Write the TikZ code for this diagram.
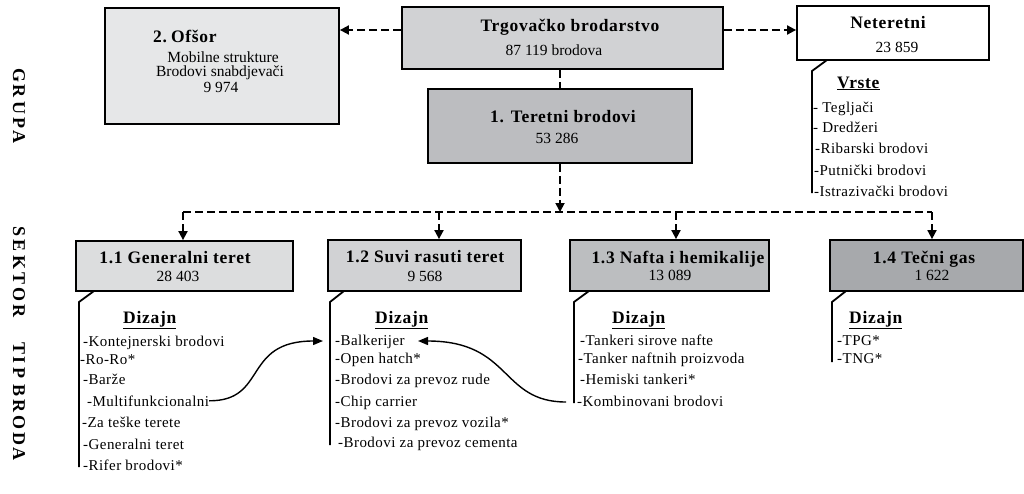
\documentclass[tikz,border=0pt]{standalone}
\usepackage{fontspec}
\setmainfont{Liberation Serif}
\usetikzlibrary{arrows.meta}
\definecolor{cOfs}{HTML}{E6E7E8}
\definecolor{cTrg}{HTML}{D1D2D4}
\definecolor{cTer}{HTML}{BCBDC0}
\definecolor{cS1}{HTML}{DCDDDE}
\definecolor{cS2}{HTML}{D1D2D4}
\definecolor{cS3}{HTML}{BCBEC0}
\definecolor{cS4}{HTML}{A7A9AC}
\tikzset{
  box/.style={draw, line width=1.8pt, rectangle, inner sep=0pt},
  head/.style={font=\bfseries\fontsize{17.5}{20}\selectfont\addfontfeatures{LetterSpace=4}, inner sep=0pt, anchor=base},
  numtxt/.style={font=\fontsize{15.5}{18}\selectfont, inner sep=0pt, anchor=base},
  item/.style={font=\fontsize{15}{18}\selectfont\addfontfeatures{LetterSpace=3}, inner sep=0pt, anchor=base west},
  vlab/.style={font=\bfseries\fontsize{18}{20}\selectfont, inner sep=0pt, rotate=-90},
  dline/.style={line width=1.8pt, dash pattern=on 8pt off 4pt},
  solidline/.style={line width=1.8pt},
  tipd/.style={-{Triangle[length=9pt,width=9pt]}},
  curv/.style={line width=1.4pt, -{Triangle[length=10pt,width=8pt]}}
}
\newcommand{\ls}{\kern3pt}
\begin{document}
\begin{tikzpicture}[x=1pt,y=-1pt]
\useasboundingbox (0,0) rectangle (1024,493);
% boxes
\node[box, fill=cOfs, minimum width=234pt, minimum height=116pt] (ofs) at (222,66) {};
\node[box, fill=cTrg, minimum width=321pt, minimum height=62pt] (trg) at (562.5,38) {};
\node[box, fill=cTer, minimum width=264pt, minimum height=74pt] (ter) at (560,126) {};
\node[box, fill=white, minimum width=192pt, minimum height=54pt] (net) at (893,33) {};
\node[box, fill=cS1, minimum width=217pt, minimum height=50pt] (s1) at (184.5,266) {};
\node[box, fill=cS2, minimum width=193pt, minimum height=51pt] (s2) at (424.5,265.5) {};
\node[box, fill=cS3, minimum width=199pt, minimum height=51pt] (s3) at (669.5,265.5) {};
\node[box, fill=cS4, minimum width=193pt, minimum height=51pt] (s4) at (926.5,265.5) {};

% vertical labels
\node[vlab] (grupa) at (19,106) {G\ls R\ls U\ls P\ls A};
\node[vlab] (sektor) at (19,272) {S\ls E\ls K\ls T\ls O\ls R};
\node[vlab] (tip) at (19,360) {T\ls I\ls P};
\node[vlab] (broda) at (19,422.5) {B\ls R\ls O\ls D\ls A};

% box texts
\node[head, anchor=base west] (ofsT) at (153,42) {2.\kern4pt Ofšor};
\node[numtxt] (ofs1) at (223,62) {Mobilne strukture};
\node[numtxt] (ofs2) at (220,76) {Brodovi snabdjevači};
\node[numtxt] (ofs3) at (221,92) {9 974};
\node[head] (trgT) at (570,31) {Trgovačko brodarstvo};
\node[numtxt] (trgN) at (554,55) {87 119 brodova};
\node[head] (terT) at (563,122) {1. Teretni brodovi};
\node[numtxt] (terN) at (557,143) {53 286};
\node[head] (netT) at (888,28) {Neteretni};
\node[numtxt] (netN) at (897,52) {23 859};
\node[head, anchor=base west] (vrste) at (837,88) {\underline{Vrste}};
\node[item] (n1) at (813,112) {- Tegljači};
\node[item] (n2) at (813,132) {- Dredžeri};
\node[item] (n3) at (815,153) {-Ribarski brodovi};
\node[item] (n4) at (814,175) {-Putnički brodovi};
\node[item] (n5) at (814,196) {-Istrazivački brodovi};

\node[head] (s1T) at (175,263) {1.1 Generalni teret};
\node[numtxt] (s1N) at (178,281) {28 403};
\node[head, anchor=base west] (d1) at (123,323) {\underline{Dizajn}};
\node[item] (a1) at (83,346) {-Kontejnerski brodovi};
\node[item] (a2) at (80,364) {-Ro-Ro*};
\node[item] (a3) at (83,384) {-Barže};
\node[item] (a4) at (87,406) {-Multifunkcionalni};
\node[item] (a5) at (82,427) {-Za teške terete};
\node[item] (a6) at (83,449) {-Generalni teret};
\node[item] (a7) at (83,470) {-Rifer brodovi*};

\node[head] (s2T) at (425,262) {1.2 Suvi rasuti teret};
\node[numtxt] (s2N) at (425,281) {9 568};
\node[head, anchor=base west] (d2) at (375,323) {\underline{Dizajn}};
\node[item] (b1) at (335,345) {-Balkerijer};
\node[item] (b2) at (335,363) {-Open hatch*};
\node[item] (b3) at (335,384) {-Brodovi za prevoz rude};
\node[item] (b4) at (335,406) {-Chip carrier};
\node[item] (b5) at (335,427) {-Brodovi za prevoz vozila*};
\node[item] (b6) at (338,447) {-Brodovi za prevoz cementa};

\node[head] (s3T) at (678,263) {1.3 Nafta i hemikalije};
\node[numtxt] (s3N) at (670,280) {13 089};
\node[head, anchor=base west] (d3) at (612,323) {\underline{Dizajn}};
\node[item] (c1) at (580,345) {-Tankeri sirove nafte};
\node[item] (c2) at (578,363) {-Tanker naftnih proizvoda};
\node[item] (c3) at (580,384) {-Hemiski tankeri*};
\node[item] (c4) at (577,406) {-Kombinovani brodovi};

\node[head] (s4T) at (924,263) {1.4 Tečni gas};
\node[numtxt] (s4N) at (932,280) {1 622};
\node[head, anchor=base west] (d4) at (849,323) {\underline{Dizajn}};
\node[item] (e1) at (837,345) {-TPG*};
\node[item] (e2) at (837,363) {-TNG*};

% dashed connectors
\coordinate (tl) at (trg.west |- 0,30);
\coordinate (tr) at (trg.east |- 0,30);
\draw[dline, tipd] (tl) -- (tl -| ofs.east);
\draw[dline, tipd] (tr) -- (tr -| net.west);
\coordinate (tm) at (560,0);
\draw[dline] (tm |- trg.south) -- (tm |- ter.north);
\coordinate (hj) at (560,212);
\draw[dline, tipd] (hj |- ter.south) -- (hj);
\coordinate (h1) at (183,212);
\coordinate (h2) at (439,212);
\coordinate (h3) at (676,212);
\coordinate (h4) at (932,212);
\draw[dline] (h1) -- (h4);
\draw[dline, tipd] (h1) -- (h1 |- s1.north);
\draw[dline, tipd] (h2) -- (h2 |- s2.north);
\draw[dline, tipd] (h3) -- (h3 |- s3.north);
\draw[dline, tipd] (h4) -- (h4 |- s4.north);

% brackets
\draw[solidline] (94,291) -- (79,302) -- (79,467);
\draw[solidline] (344,291) -- (330,302) -- (330,445);
\draw[solidline] (589,291) -- (574,302) -- (574,403);
\draw[solidline] (846,291) -- (832,302) -- (832,362);
\draw[solidline] (827,60) -- (812,71) -- (812,193);

% curved arrows
\coordinate (b1t) at (323,341);
\draw[curv] (a4.east) .. controls (268,401) and (242,341) .. (b1t);
\coordinate (c4s) at (566,402);
\coordinate (b1e) at (418,341);
\draw[curv] (c4s) .. controls (500,402) and (512,341) .. (b1e);
\end{tikzpicture}
\end{document}
